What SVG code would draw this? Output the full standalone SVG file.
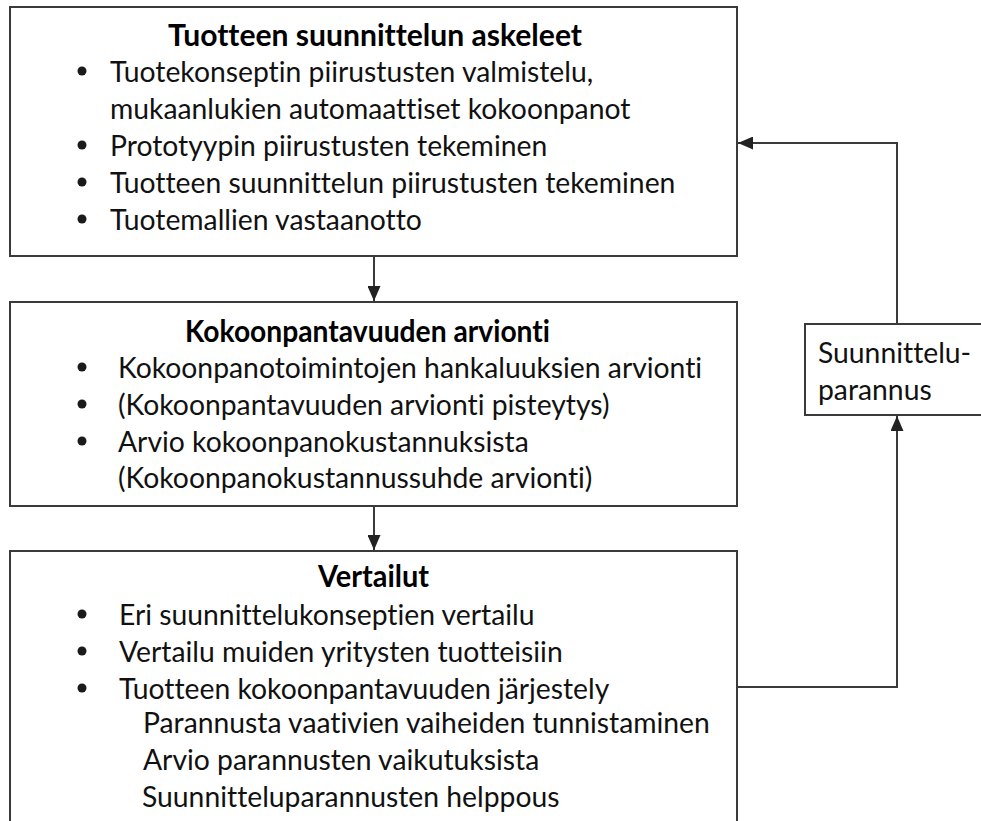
<svg xmlns="http://www.w3.org/2000/svg" width="981" height="821" viewBox="0 0 981 821">
<style>
  .box { fill: #ffffff; stroke: #3a3a3a; stroke-width: 2; }
  .t { font-family: Lato, "Open Sans", "Liberation Sans", sans-serif; font-size: 28.3px; fill: #111; font-variant-ligatures: none; }
  .h { font-family: Lato, "Open Sans", "Liberation Sans", sans-serif; font-size: 29.5px; font-weight: bold; fill: #000; text-anchor: middle; font-variant-ligatures: none; }
  .b { fill: #1a1a1a; }
  .c { fill: none; stroke: #3a3a3a; stroke-width: 2; }
</style>
<defs>
  <marker id="ah" viewBox="0 0 15 13" refX="15" refY="6.5" markerWidth="15" markerHeight="13" markerUnits="userSpaceOnUse" orient="auto">
    <path d="M0,0 L15,6.5 L0,13 Z" fill="#222"/>
  </marker>
</defs>
<rect width="981" height="821" fill="#ffffff"/>

<g id="connectors">
  <line class="c" x1="374" y1="256" x2="374" y2="301" marker-end="url(#ah)"/>
  <line class="c" x1="374" y1="506" x2="374" y2="550" marker-end="url(#ah)"/>
  <polyline class="c" points="737,687 897,687 897,416" marker-end="url(#ah)"/>
  <polyline class="c" points="897,324 897,143 738,143" marker-end="url(#ah)"/>
</g>

<g id="node-askeleet">
  <rect class="box" x="10" y="7" width="727" height="249"/>
  <text class="h" x="375" y="46" textLength="414" lengthAdjust="spacingAndGlyphs">Tuotteen suunnittelun askeleet</text>
  <circle class="b" cx="82" cy="71" r="4.5"/>
  <text class="t" x="110" y="82">Tuotekonseptin piirustusten valmistelu,</text>
  <text class="t" x="110" y="119">mukaanlukien automaattiset kokoonpanot</text>
  <circle class="b" cx="82" cy="145" r="4.5"/>
  <text class="t" x="110" y="156">Prototyypin piirustusten tekeminen</text>
  <circle class="b" cx="82" cy="182" r="4.5"/>
  <text class="t" x="110" y="193">Tuotteen suunnittelun piirustusten tekeminen</text>
  <circle class="b" cx="82" cy="219" r="4.5"/>
  <text class="t" x="110" y="230">Tuotemallien vastaanotto</text>
</g>

<g id="node-arviointi">
  <rect class="box" x="10" y="302" width="727" height="204"/>
  <text class="h" x="367.5" y="342" textLength="365" lengthAdjust="spacingAndGlyphs">Kokoonpantavuuden arvionti</text>
  <circle class="b" cx="82" cy="367" r="4.5"/>
  <text class="t" x="118" y="378">Kokoonpanotoimintojen hankaluuksien arvionti</text>
  <circle class="b" cx="82" cy="404" r="4.5"/>
  <text class="t" x="118" y="415">(Kokoonpantavuuden arvionti pisteytys)</text>
  <circle class="b" cx="82" cy="441" r="4.5"/>
  <text class="t" x="118" y="452">Arvio kokoonpanokustannuksista</text>
  <text class="t" x="118" y="488">(Kokoonpanokustannussuhde arvionti)</text>
</g>

<g id="node-vertailut">
  <rect class="box" x="10" y="551" width="727" height="300"/>
  <text class="h" x="373.5" y="587" textLength="111" lengthAdjust="spacingAndGlyphs">Vertailut</text>
  <circle class="b" cx="82" cy="614" r="4.5"/>
  <text class="t" x="119" y="625">Eri suunnittelukonseptien vertailu</text>
  <circle class="b" cx="82" cy="651" r="4.5"/>
  <text class="t" x="119" y="662">Vertailu muiden yritysten tuotteisiin</text>
  <circle class="b" cx="82" cy="688" r="4.5"/>
  <text class="t" x="119" y="699">Tuotteen kokoonpantavuuden järjestely</text>
  <text class="t" x="143" y="733">Parannusta vaativien vaiheiden tunnistaminen</text>
  <text class="t" x="143" y="770">Arvio parannusten vaikutuksista</text>
  <text class="t" x="142" y="807">Suunnitteluparannusten helppous</text>
</g>

<g id="node-parannus">
  <rect class="box" x="805" y="324" width="190" height="91"/>
  <text class="t" x="818" y="363">Suunnittelu-</text>
  <text class="t" x="818" y="400">parannus</text>
</g>
</svg>
